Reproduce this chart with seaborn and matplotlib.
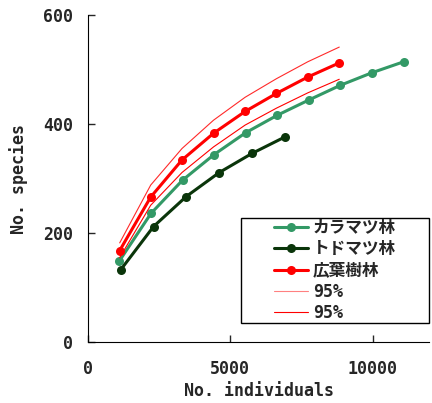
import seaborn as sns
import pandas as pd
import matplotlib.pyplot as plt
import numpy as np
from matplotlib.patches import Rectangle

# データ
kara_x = [1100, 2210, 3320, 4430, 5540, 6650, 7760, 8870, 9980, 11090]
kara_y = [149, 236, 297, 344, 384, 416, 444, 471, 494, 514]

todo_x = [1150, 2300, 3450, 4610, 5760, 6910]
todo_y = [133, 212, 267, 311, 346, 376]

kouyou_x = [1110, 2200, 3300, 4410, 5520, 6620, 7720, 8830]
kouyou_y = [168, 266, 334, 383, 423, 456, 486, 512]
upper_y = [182, 288, 355, 407, 449, 483, 514, 541]
lower_y = [155, 251, 311, 358, 398, 429, 457, 482]

sns.set_style("ticks")
plt.rcParams["font.family"] = ["DejaVu Sans Mono", "Noto Sans CJK JP"]
plt.rcParams["font.weight"] = "bold"

fig = plt.figure(figsize=(4.32, 4.03), dpi=100)
ax = fig.add_axes([0.204, 0.151, 0.79, 0.812])

sns.lineplot(x=kara_x, y=kara_y, color="#339966", marker="o", markersize=6.5,
             markeredgewidth=0, linewidth=2.2, label="カラマツ林", ax=ax)
sns.lineplot(x=todo_x, y=todo_y, color="#0a350a", marker="o", markersize=6.5,
             markeredgewidth=0, linewidth=2.2, label="トドマツ林", ax=ax)
sns.lineplot(x=kouyou_x, y=kouyou_y, color="#ff0000", marker="o", markersize=6.5,
             markeredgewidth=0, linewidth=2.2, label="広葉樹林", ax=ax)
sns.lineplot(x=kouyou_x, y=upper_y, color="#ff2a2a", linewidth=0.8, label="95%", ax=ax)
sns.lineplot(x=kouyou_x, y=lower_y, color="#ff0000", linewidth=0.8, label="95%", ax=ax)

ax.set_xlim(0, 12000)
ax.set_ylim(0, 600)
ax.set_xticks([0, 5000, 10000])
ax.set_yticks([0, 200, 400, 600])
ax.tick_params(direction="in", length=5, labelsize=12, width=1)
ax.tick_params(axis="x", pad=13)
ax.tick_params(axis="y", pad=11)
for lab in ax.get_xticklabels() + ax.get_yticklabels():
    lab.set_fontweight("bold")
sns.despine(ax=ax)
ax.spines["left"].set_color("black")
ax.spines["bottom"].set_color("black")

ax.set_xlabel("No. individuals", fontsize=12, fontweight="bold", labelpad=3)
ax.set_ylabel("No. species", fontsize=12, fontweight="bold", labelpad=11)

# 凡例の枠
box_x0, box_y0, box_w, box_h = 0.448, 0.058, 0.552, 0.321
ax.add_patch(Rectangle((box_x0, box_y0), box_w, box_h, transform=ax.transAxes,
                       facecolor="white", edgecolor="black", linewidth=1.0,
                       zorder=4, clip_on=False))
leg = ax.legend(loc="center", bbox_to_anchor=(box_x0 + box_w / 2, box_y0 + box_h / 2),
                frameon=False, fontsize=12, handlelength=2.0,
                labelspacing=0.2, handletextpad=0.3, borderaxespad=0)
leg.set_zorder(5)
leg.get_lines()[3].set_color("#ff8080")

plt.savefig("out.png", dpi=100)
